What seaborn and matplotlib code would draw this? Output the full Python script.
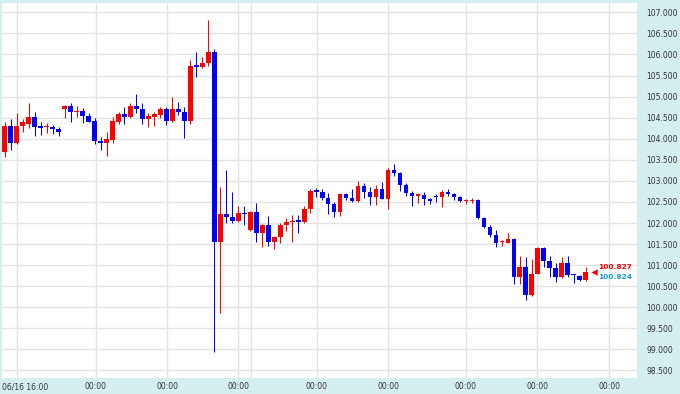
import numpy as np
import pandas as pd
import matplotlib
matplotlib.use("Agg")
import matplotlib.pyplot as plt
from matplotlib.transforms import ScaledTranslation
import seaborn as sns

# ---------------- data ----------------
opens = [103.692, 104.302, 103.906, 104.302, 104.349, 104.523, 104.309, 104.270, 104.286, 104.231,
         104.705, 104.784, 104.635, 104.658, 104.539, 104.428, 103.954, 103.891, 103.970, 104.404,
         104.587, 104.509, 104.777, 104.698, 104.468, 104.523, 104.563, 104.698, 104.428, 104.705,
         104.627, 104.428, 105.726, 105.710, 105.790, 106.051, 101.556, 102.214, 102.135, 102.054,
         102.237, 101.834, 102.250, 101.771, 101.952, 101.556, 101.661, 101.952, 102.016, 102.054,
         102.031, 102.325, 102.767, 102.744, 102.586, 102.451, 102.269, 102.688, 102.586, 102.530,
         102.878, 102.744, 102.610, 102.800, 102.563, 103.258, 103.179, 102.902, 102.720, 102.641,
         102.665, 102.570, 102.650, 102.610, 102.744, 102.681, 102.610, 102.520, 102.523, 102.546,
         102.111, 101.898, 101.715, 101.550, 101.533, 101.620, 100.727, 100.964, 100.280, 100.790,
         101.400, 101.103, 100.925, 100.707, 101.058, 100.790, 100.750, 100.648]
highs = [104.404, 104.468, 104.611, 104.468, 104.841, 104.627, 104.397, 104.373, 104.326, 104.286,
         104.790, 104.841, 104.784, 104.722, 104.603, 104.485, 104.049, 104.167, 104.523, 104.642,
         104.760, 104.841, 105.054, 104.855, 104.603, 104.642, 104.760, 104.760, 104.983, 104.879,
         104.760, 105.868, 106.051, 105.932, 106.817, 106.122, 102.862, 103.258, 102.744, 102.403,
         102.410, 102.280, 102.468, 101.970, 102.174, 101.690, 101.992, 102.111, 102.189, 102.189,
         102.403, 102.800, 102.838, 102.800, 102.705, 102.510, 102.720, 102.720, 102.800, 102.997,
         102.941, 102.862, 102.900, 102.966, 103.298, 103.393, 103.220, 102.940, 102.760, 102.720,
         102.735, 102.600, 102.690, 102.780, 102.800, 102.720, 102.640, 102.560, 102.590, 102.560,
         102.150, 101.952, 101.834, 101.600, 101.756, 101.640, 101.206, 101.190, 101.146, 101.440,
         101.440, 101.210, 101.044, 101.190, 101.210, 100.790, 100.766, 100.949]
lows = [103.559, 103.732, 103.880, 104.160, 104.247, 104.065, 104.089, 104.143, 104.105, 104.065,
        104.485, 104.390, 104.523, 104.381, 104.390, 103.875, 103.732, 103.590, 103.906, 104.341,
        104.349, 104.485, 104.603, 104.341, 104.286, 104.302, 104.500, 104.326, 104.404, 104.563,
        104.011, 104.349, 105.472, 105.671, 105.733, 98.946, 99.872, 101.992, 101.992, 102.031,
        101.964, 101.820, 101.550, 101.438, 101.462, 101.376, 101.533, 101.810, 101.542, 101.756,
        101.992, 102.230, 102.625, 102.546, 102.206, 102.150, 102.174, 102.546, 102.492, 102.510,
        102.586, 102.427, 102.427, 102.560, 102.332, 103.116, 102.767, 102.640, 102.411, 102.483,
        102.427, 102.444, 102.510, 102.380, 102.640, 102.546, 102.510, 102.450, 102.470, 102.087,
        101.874, 101.675, 101.438, 101.450, 101.520, 100.553, 100.560, 100.166, 100.270, 100.780,
        100.964, 100.719, 100.607, 100.690, 100.707, 100.569, 100.630, 100.630]
closes = [104.302, 103.906, 104.302, 104.390, 104.523, 104.286, 104.262, 104.285, 104.231, 104.160,
          104.784, 104.627, 104.645, 104.539, 104.404, 103.954, 103.891, 103.986, 104.420, 104.587,
          104.509, 104.777, 104.698, 104.468, 104.547, 104.580, 104.698, 104.428, 104.705, 104.627,
          104.428, 105.726, 105.710, 105.790, 106.051, 101.556, 102.214, 102.135, 102.054, 102.230,
          102.206, 102.254, 101.771, 101.952, 101.556, 101.675, 101.952, 102.016, 102.047, 102.031,
          102.325, 102.767, 102.744, 102.586, 102.451, 102.269, 102.688, 102.586, 102.530, 102.878,
          102.744, 102.610, 102.800, 102.563, 103.258, 103.179, 102.902, 102.720, 102.641, 102.681,
          102.570, 102.530, 102.610, 102.744, 102.681, 102.610, 102.530, 102.535, 102.546, 102.111,
          101.898, 101.715, 101.533, 101.560, 101.620, 100.727, 100.964, 100.280, 100.790, 101.400,
          101.103, 100.925, 100.707, 101.058, 100.766, 100.760, 100.648, 100.827]

bid_price = 100.827
ask_price = 100.824
bid_label = "100.827"
ask_label = "100.824"

ytick_values = [98.5, 99.0, 99.5, 100.0, 100.5, 101.0, 101.5, 102.0, 102.5,
                103.0, 103.5, 104.0, 104.5, 105.0, 105.5, 106.0, 106.5, 107.0]
xtick_labels = ["06/16 16:00", "00:00", "00:00", "00:00", "00:00",
                "00:00", "00:00", "00:00", "00:00"]

# ---------------- style ----------------
RED = "#ff0000"
BLUE = "#0000ff"
ASK_BLUE = "#1a96d8"
BG = "#d5eef0"
GRID = "#e4e4e4"
TXT = "#333333"

sns.set_theme(style="white")
plt.rcParams["font.family"] = ["DejaVu Sans"]

df = pd.DataFrame({"open": opens, "high": highs, "low": lows, "close": closes})
df["idx"] = np.arange(len(df))
df["up"] = df["close"] >= df["open"]
df["color"] = np.where(df["up"], RED, BLUE)
df["bottom"] = df[["open", "close"]].min(axis=1)
df["height"] = (df["close"] - df["open"]).abs().clip(lower=0.03)

fig = plt.figure(figsize=(6.8, 3.94), dpi=100, facecolor=BG)
ax = fig.add_axes([2 / 680, 16 / 394, 635 / 680, 375 / 394])
ax.set_facecolor("white")

# gridlines
tick_pos = [2.05, 15.2, 27.1, 38.95, 52.1, 64.0, 77.0, 88.9, 100.9]
ax.set_xticks(tick_pos)
ax.set_xticklabels(xtick_labels)
ax.set_yticks(ytick_values)
ax.set_yticklabels([f"{v:.3f}" for v in ytick_values])
ax.grid(True, color=GRID, linewidth=1.0)
ax.axvline(41.1, color=GRID, linewidth=1.0, zorder=0.5)
ax.set_axisbelow(True)

# wicks and bodies
ax.vlines(df["idx"], df["low"], df["high"], colors=df["color"], linewidth=0.75, zorder=2)
ax.bar(df["idx"], df["height"], bottom=df["bottom"], width=0.78,
       color=df["color"], linewidth=0, zorder=3)

# current price marker + labels
last_x = df["idx"].iloc[-1]
sns.scatterplot(x=[last_x + 1.45], y=[bid_price], marker="<", color=RED, s=22,
                linewidth=0, ax=ax, zorder=4, legend=False)
ax.annotate(bid_label, xy=(last_x + 2.1, bid_price), xytext=(0, 3.6),
            textcoords="offset points", ha="left", va="center",
            color=RED, fontsize=5.3, fontweight="bold")
ax.annotate(ask_label, xy=(last_x + 2.1, ask_price), xytext=(0, -3.4),
            textcoords="offset points", ha="left", va="center",
            color=ASK_BLUE, fontsize=5.3, fontweight="bold")

ax.set_xlim(-0.45, 105.56)
ax.set_ylim(98.322, 107.221)

ax.yaxis.tick_right()
ax.tick_params(axis="y", length=0, pad=6.5, labelsize=5.5, labelcolor=TXT)
ax.tick_params(axis="x", length=0, pad=3, labelsize=5.5, labelcolor=TXT)
first = ax.get_xticklabels()[0]
first.set_horizontalalignment("left")
first.set_transform(first.get_transform() + ScaledTranslation(-15 / 100, 0, fig.dpi_scale_trans))

for s in ax.spines.values():
    s.set_visible(False)
ax.set_xlabel("")
ax.set_ylabel("")

fig.savefig("out.png", dpi=100, facecolor=BG)
